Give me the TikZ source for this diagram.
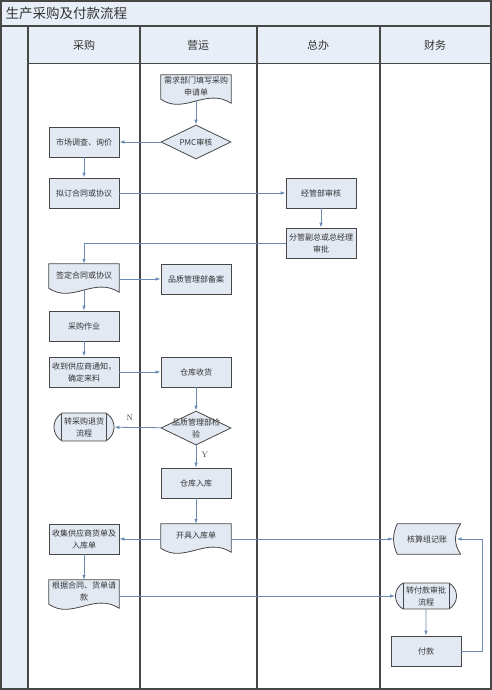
\documentclass[tikz,border=0pt]{standalone}
\usepackage{fontspec}
\newfontfamily\cjk{Noto Sans CJK SC}
\usetikzlibrary{arrows.meta,calc,positioning,shapes.geometric,shapes.misc,backgrounds}
\definecolor{paleblue}{HTML}{E8EEF7}
\definecolor{boxfill}{HTML}{E3E9F3}
\definecolor{linkblue}{HTML}{6A8BB3}
\definecolor{frame}{HTML}{474747}

\begin{document}
\begin{tikzpicture}[x=1pt,y=-1pt,
every node/.style={font=\cjk\fontsize{8}{12}\selectfont,text=black!80,align=center},
boxline/.style={draw=frame,fill=boxfill,line width=.8pt},
proc/.style={rectangle,boxline,minimum width=70pt,minimum height=30pt,inner sep=1pt},
doc/.style={rectangle,minimum width=70pt,minimum height=22pt,inner sep=1pt},
ledger/.style={rectangle,minimum width=67pt,minimum height=30pt,inner sep=1pt},
dec/.style={diamond,aspect=2,boxline,minimum width=70pt,minimum height=34pt,inner sep=0pt},
sub/.style={rounded rectangle,rounded rectangle arc length=120,boxline,minimum width=62pt,minimum height=28pt,inner sep=1pt},
yesno/.style={font=\rmfamily\fontsize{8}{10}\selectfont},
link/.style={draw=linkblue,line width=.8pt,-{Latex[length=5pt,width=3.5pt]}},
lane/.style={draw=frame,line width=1.3pt}]
\useasboundingbox (0,0) rectangle (492,690);

% swimlanes
\fill[paleblue] (0,0) rectangle (492,63);
\fill[paleblue] (0,63) rectangle (28,690);
\draw[lane] (1,1) rectangle (491,689);
\draw[lane] (1,26) -- (491,26);
\draw[lane] (28,26) -- (28,689);
\foreach \x in {140,257,380}
  \draw[lane] (\x,26) -- (\x,689);
\draw[frame,line width=.8pt] (28,63) -- (491,63);

\node[anchor=west,font=\cjk\fontsize{13.5}{15}\selectfont] (title) at (2,13) {生产采购及付款流程};
\node[font=\cjk\fontsize{11}{13}\selectfont] (hbuy) at (84,45) {采购};
\node[font=\cjk\fontsize{11}{13}\selectfont] (hops) at (198,45) {营运};
\node[font=\cjk\fontsize{11}{13}\selectfont] (hgm) at (318,45) {总办};
\node[font=\cjk\fontsize{11}{13}\selectfont] (hfin) at (435,45) {财务};

% steps
\node[doc] (req) at (196,86) {需求部门填写采购\\申请单};
\node[dec] (pmc) at (196,142) {PMC审核};
\node[proc] (survey) at (84,142) {市场调查、询价};
\node[proc] (draft) at (84,193) {拟订合同或协议};
\node[proc] (audit) at (321,193) {经管部审核};
\node[proc] (approve) at (321,243) {分管副总或总经理\\审批};
\node[doc] (sign) at (84,275) {签定合同或协议};
\node[proc] (file) at (196,279) {品质管理部备案};
\node[proc] (buy) at (84,326) {采购作业};
\node[proc] (notice) at (84,372) {收到供应商通知，\\确定来料};
\node[proc] (recv) at (196,372) {仓库收货};
\node[dec,label=center:{品质管理部检\\验}] (qc) at (196,428) {};
\node[sub] (back) at (84,427) {转采购退货\\流程};
\node[proc] (stock) at (196,483) {仓库入库};
\node[doc] (slip) at (196,535) {开具入库单};
\node[proc] (collect) at (84,539) {收集供应商货单及\\入库单};
\node[doc] (claim) at (84,591) {根据合同、货单请\\款};
\node[ledger] (book) at (427,539) {核算组记账};
\node[sub,minimum width=63pt,minimum height=26pt] (pay) at (426,596) {转付款审批\\流程};
\node[proc] (paid) at (426,651) {付款};

% outlines of the document and ledger shapes
\begin{scope}[on background layer]
\foreach \s in {req,sign,slip,claim}
  \filldraw[boxline] (\s.north west) -- (\s.north east) -- ($(\s.south east)+(0,6)$)
    .. controls ($(\s.south)+(10,-10)$) and ($(\s.south)+(-12,18)$) .. ($(\s.south west)+(0,2)$) -- cycle;
\filldraw[boxline] ($(book.north west)+(4,0)$) -- (book.north east)
  .. controls ($(book.north east)+(-7,10)$) and ($(book.south east)+(-7,-10)$) .. (book.south east)
  -- ($(book.south west)+(4,0)$)
  .. controls ($(book.south west)+(-1,-10)$) and ($(book.north west)+(-1,10)$) .. cycle;
\end{scope}
\foreach \s in {back,pay}
  \draw[frame,line width=.8pt] let \p1=(\s.west), \p2=(\s.east), \p3=(\s.north), \p4=(\s.south) in
    (\x1+8pt,\y3) -- (\x1+8pt,\y4) (\x2-8pt,\y3) -- (\x2-8pt,\y4);

% connectors
\draw[link] ($(req.south)+(0,4)$) -- (pmc);
\draw[link] (pmc) -- (survey);
\draw[link] (survey) -- (draft);
\draw[link] (draft) -- (audit);
\draw[link] (audit) -- (approve);
\draw[link] (approve.west) -| (sign.north);
\draw[link] (sign.east |- file.west) -- (file.west);
\draw[link] ($(sign.south)+(0,4)$) -- (buy);
\draw[link] (buy) -- (notice);
\draw[link] (notice) -- (recv);
\draw[link] (recv) -- (qc);
\draw[link] (qc) -- node[yesno,above=3pt,pos=.67] (lno) {N} (back);
\draw[link] (qc) -- node[yesno,right=2pt,pos=.43] (lyes) {Y} (stock);
\draw[link] (stock) -- (slip);
\draw[link] (slip.west |- collect.east) -- (collect.east);
\draw[link] (slip.east |- collect.east) -- (book.west);
\draw[link] (collect.south) -- (claim.north);
\draw[link] (claim.east |- pay.west) -- (pay.west);
\draw[link] (pay) -- (paid);
\draw[link] (paid.east) -- ++(21,0) |- ($(book.east)+(-4,0)$);
\end{tikzpicture}
\end{document}
